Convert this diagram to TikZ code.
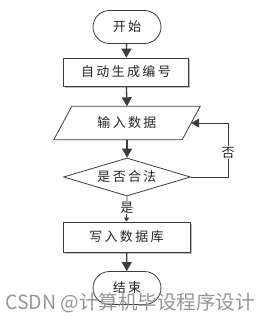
\documentclass[tikz,border=0pt]{standalone}
\usepackage{fontspec}
\usetikzlibrary{shapes.geometric,arrows.meta}
\newfontfamily\cjk[LetterSpace=18]{Noto Sans CJK SC}
\newfontfamily\wmfont{Noto Sans CJK SC}
\definecolor{ln}{RGB}{60,60,60}
\definecolor{sh}{RGB}{190,190,190}
\definecolor{wm}{RGB}{150,150,150}
\begin{document}
\begin{tikzpicture}[x=1pt,y=-1pt,
  every node/.style={font=\cjk\fontsize{13pt}{15pt}\selectfont, text=black!85},
  term/.style={draw=ln, line width=0.8pt, rectangle, rounded corners=16.5pt, minimum width=68pt, minimum height=33pt, inner sep=0pt, fill=white},
  procbox/.style={draw=ln, line width=0.8pt, rectangle, minimum width=125pt, minimum height=28pt, inner sep=0pt, fill=white},
  iobox/.style={rectangle, minimum width=128pt, minimum height=33pt, inner sep=0pt},
  decide/.style={draw=ln, line width=0.8pt, diamond, shape aspect=3.3, minimum width=127pt, minimum height=38pt, inner sep=0pt, fill=white},
  flow/.style={draw=ln, line width=1.3pt, -{Triangle[length=9pt,width=10pt]}},
  thin/.style={draw=ln, line width=0.8pt},
  lbl/.style={fill=white, inner sep=1pt}
]
\useasboundingbox (0,0) rectangle (271,321);
\fill[white] (0,0) rectangle (271,321);

% shadows
\fill[sh] (65,59) rectangle (190,88);
\fill[sh] (65,224) rectangle (192,254);

\node[term] (start) at (127,27) {开始};
\node[procbox] (gen) at (126,72) {自动生成编号};
\node[iobox] (input) at (127,123) {};
\draw[ln, line width=0.8pt, fill=white] ([xshift=9pt]input.north west) -- ([xshift=9pt]input.north east) -- ([xshift=-9pt]input.south east) -- ([xshift=-9pt]input.south west) -- cycle;
\node at (input.center) {输入数据};
\node[decide] (check) at (127,177) {是否合法};
\node[procbox, minimum width=127pt, minimum height=30pt] (write) at (126.5,237) {写入数据库};
\node[term] (end) at (127,288) {结束};

\coordinate (rc) at (228,177);
\coordinate (rt) at (228,123);

\draw[flow] (start) -- (gen);
\draw[flow] (gen) -- (input.north);
\draw[flow] (input.south) -- (check);
\draw[thin, -{Triangle[length=8pt,width=9pt]}] (check.east) -- (rc) -- node[lbl, pos=0.45] {否} (rt) -- (input.east);
\draw[thin, -{Triangle[length=4pt,width=5pt]}] (check.south) -- node[lbl, pos=0.45] {是} (write.north);
\draw[flow] (write) -- (end);

\node[font=\wmfont\fontsize{19.5pt}{21pt}\selectfont, text=wm] (wmark) at (130,303) {CSDN @计算机毕设程序设计};
\end{tikzpicture}
\end{document}
